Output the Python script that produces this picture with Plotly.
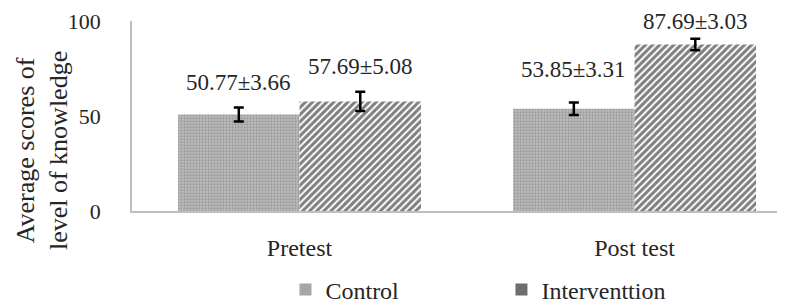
import plotly.graph_objects as go

categories = ["Pretest", "Post test"]
control_means = [50.77, 53.85]
control_sd = [3.66, 3.31]
intervention_means = [57.69, 87.69]
intervention_sd = [5.08, 3.03]
series_names = ["Control", "Interventtion"]
y_ticks = [0, 50, 100]

FONT = "Liberation Serif"
TXT = "#262626"
BAR_W = 0.3625
label_shift = [[32, 39], [35, 23]]  # px above bar top, per series / category

fig = go.Figure()
series = [
    (series_names[0], control_means, control_sd,
     dict(shape=".", fgcolor="#7a7a7a", bgcolor="#bdbdbd", size=3, solidity=0.45), "#a6a6a6"),
    (series_names[1], intervention_means, intervention_sd,
     dict(shape="/", fgcolor="#000000", bgcolor="#ffffff", size=5, solidity=0.6), "#6e6e6e"),
]
for name, vals, sd, pat, solid in series:
    fig.add_trace(go.Bar(
        x=categories, y=vals, name=name, showlegend=False,
        marker=dict(color=solid, pattern=pat, line=dict(width=0)),
        error_y=dict(type="data", array=sd, visible=True, color="black",
                     thickness=2.5, width=5),
    ))
for name, vals, sd, pat, solid in series:
    # legend-only solid entry
    fig.add_trace(go.Scatter(
        x=[None], y=[None], name=name, mode="markers",
        marker=dict(symbol="square", size=13, color=solid), showlegend=True,
    ))

annotations = []
for s, (name, vals, sd, pat, solid) in enumerate(series):
    off = -BAR_W / 2 if s == 0 else BAR_W / 2
    for i, v in enumerate(vals):
        annotations.append(dict(
            x=i + off, y=v, xref="x", yref="y",
            text=f"{v:.2f}±{sd[i]:.2f}", showarrow=False,
            yanchor="middle", xanchor="center", yshift=label_shift[s][i],
            font=dict(family=FONT, size=23, color=TXT),
        ))

annotations.append(dict(
    text="Average scores of<br>level of knowledge", textangle=-90,
    xref="paper", yref="paper", x=-0.138, y=0.32,
    xanchor="center", yanchor="middle", showarrow=False,
    font=dict(family=FONT, size=26, color=TXT),
))

# page body has an 8px margin: size/margins compensate so the plot sits in place
fig.update_layout(
    width=777, height=299,
    margin=dict(l=124, r=0, t=13, b=96, autoexpand=False),
    paper_bgcolor="white", plot_bgcolor="white",
    barmode="group", bargap=0.275, bargroupgap=0,
    font=dict(family=FONT, color=TXT),
    annotations=annotations,
    legend=dict(orientation="h", x=0.235, y=-0.415, xanchor="left", yanchor="middle",
                font=dict(family=FONT, size=24, color=TXT),
                entrywidth=171, entrywidthmode="pixels", itemsizing="constant"),
    xaxis=dict(range=[-0.5, 1.449], showline=True, linecolor="#bfbfbf", linewidth=1.5,
               showgrid=False, ticks="", tickfont=dict(family=FONT, size=24, color=TXT),
               ticklabelstandoff=14),
    yaxis=dict(range=[0, 100], tickvals=y_ticks, showline=True, linecolor="#bfbfbf",
               linewidth=1.5, showgrid=False, zeroline=False, ticks="",
               tickfont=dict(family=FONT, size=22, color=TXT), ticklabelstandoff=25),
)

fig.write_html("out.html")
